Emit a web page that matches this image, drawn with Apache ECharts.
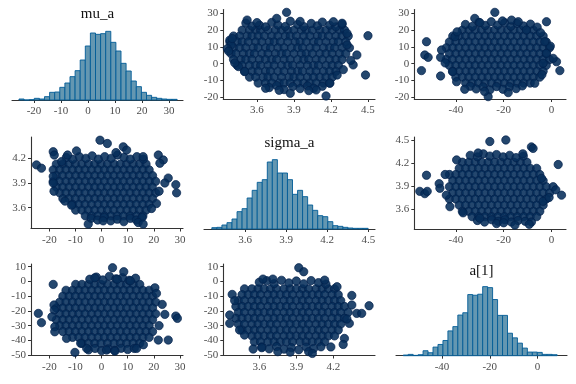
<!DOCTYPE html>
<html><head><meta charset="utf-8">
<script src="https://cdn.jsdelivr.net/npm/echarts@6/dist/echarts.min.js"></script>
<style>html,body{margin:0;padding:0;background:#fff}#c{width:576px;height:384px}</style>
</head><body><div id="c"></div>
<script>
// ---------- parameter names (diagonal titles) ----------
const paramNames = ['mu_a', 'sigma_a', 'a[1]'];

// ---------- histograms (bin start, bin width, counts) ----------
const muHistStart = -25.56, muHistWidth = 1.889;
const muHistCounts = [3,0,1,5,3,10,23,24,38,51,70,88,120,162,201,197,199,206,173,147,110,87,57,40,23,14,8,5,3,2,2];
const sigmaHistStart = 3.358, sigmaHistWidth = 0.0368;
const sigmaHistCounts = [4,5,12,19,30,52,61,93,116,140,148,201,208,168,168,148,104,116,97,72,56,40,37,22,10,8,5,3,2,2,2];
const a1HistStart = -56.25, a1HistWidth = 2.08;
const a1HistCounts = [2,4,1,3,15,9,26,34,46,75,88,123,130,185,183,186,209,206,170,122,122,68,54,38,23,11,11,10,4,4,3];

// ---------- tick labels ----------
const muTicks = [-20,-10,0,10,20,30];
const sigmaTicks = [3.6,3.9,4.2,4.5];
const sigmaTicksShort = [3.6,3.9,4.2];
const a1Ticks = [-40,-20,0];
const a1TicksY = [-50,-40,-30,-20,-10,0,10];

// ---------- scatter draws: rows are [y, x, x, ...], edge/outlier draws are [x, y] ----------
// row1 col2: x = sigma_a, y = mu_a
const sigmaMuRows = [
 [20.0, 3.48,3.54,3.59,3.63,3.69,3.75,3.80,3.85,3.90,3.96,4.00,4.05,4.11,4.16,4.21,4.27,4.31],
 [16.5, 3.41,3.46,3.52,3.56,3.61,3.66,3.72,3.77,3.83,3.87,3.92,3.98,4.03,4.09,4.13,4.18,4.24,4.29,4.34],
 [13.0, 3.38,3.44,3.48,3.53,3.59,3.64,3.70,3.74,3.79,3.85,3.91,3.95,4.00,4.06,4.10,4.16,4.22,4.26,4.32],
 [9.5, 3.41,3.46,3.51,3.57,3.61,3.67,3.71,3.77,3.82,3.88,3.93,3.97,4.03,4.08,4.14,4.19,4.23,4.29,4.35],
 [6.0, 3.39,3.43,3.49,3.54,3.58,3.64,3.69,3.75,3.80,3.84,3.90,3.96,4.00,4.05,4.11,4.16,4.21,4.27,4.32],
 [2.5, 3.41,3.47,3.51,3.56,3.62,3.67,3.72,3.76,3.82,3.87,3.93,3.98,4.02,4.08,4.13,4.19,4.24,4.29],
 [-1.0, 3.44,3.48,3.54,3.59,3.63,3.69,3.74,3.80,3.85,3.89,3.95,4.01,4.06,4.10,4.16,4.21,4.26],
 [-4.5, 3.50,3.56,3.61,3.67,3.71,3.77,3.82,3.88,3.93,3.97,4.03,4.08,4.14,4.19,4.24],
 [-8.0, 3.54,3.59,3.65,3.69,3.74,3.80,3.86,3.90,3.95,4.01,4.06,4.11,4.16,4.21],
 [-11.5, 3.61,3.67,3.72,3.78,3.82,3.87,3.93,3.98,4.03,4.08,4.14,4.19]
];
const sigmaMuOut = [[3.51,24.2],[3.56,22.4],[3.62,23.0],[3.67,22.0],[3.72,24.6],[3.77,23.1],[3.83,22.2],[3.87,25.3],[3.93,23.4],[3.98,22.1],[4.04,24.0],[4.09,22.6],[4.13,24.8],[4.19,23.0],[4.24,22.0],[4.29,23.4],
 [3.70,-14.2],[3.76,-13.0],[3.82,-15.4],[3.89,-13.6],[3.95,-14.8],[4.01,-13.2],[4.06,-14.6],[4.13,-13.4],
 [3.84,30.6],[4.50,16.7],[4.48,-6.7],[4.16,-19.2],[4.41,5.2],[4.38,-0.7],[4.33,18.1],[3.38,14.1],[3.39,11.2],[3.52,26.0],[3.76,27.0],[4.22,25.0],[4.29,24.1],[3.67,-14.6],[4.25,-6.7],[4.19,-11.6],[3.87,-17.6],[3.95,25.2],[4.33,11.2],[3.45,-1.7],[3.50,-4.7],[4.08,-15.6],[3.60,24.5],[4.36,2.0],[3.36,9.0],[3.78,-15.8],[4.02,-16.0],[4.30,-3.5],[3.40,15.0],[3.37,7.5],[3.42,0.5]];

// row1 col3: x = a[1], y = mu_a
const a1MuRows = [
 [20.0, -37.3,-34.5,-31.9,-29.2,-26.6,-23.8,-21.1,-18.3,-15.7,-13.0,-10.4,-7.6],
 [16.5, -41.3,-38.6,-35.9,-33.3,-30.5,-27.8,-25.1,-22.5,-19.7,-17.0,-14.2,-11.6,-8.9,-6.2,-3.5],
 [13.0, -42.7,-40.0,-37.2,-34.6,-31.9,-29.1,-26.5,-23.8,-21.2,-18.4,-15.7,-12.9,-10.3,-7.6,-4.9,-2.2],
 [9.5, -44.0,-41.3,-38.7,-35.9,-33.2,-30.4,-27.8,-25.1,-22.4,-19.8,-17.0,-14.3,-11.6,-8.8,-6.2,-3.5,-0.8],
 [6.0, -42.7,-40.0,-37.3,-34.6,-31.8,-29.2,-26.5,-23.8,-21.1,-18.4,-15.6,-13.0,-10.3,-7.6,-4.9,-2.2],
 [2.5, -44.0,-41.4,-38.6,-35.9,-33.2,-30.5,-27.7,-25.1,-22.4,-19.7,-17.0,-14.3,-11.5,-8.9,-6.2,-3.5,-0.8],
 [-1.0, -42.7,-40.0,-37.3,-34.5,-31.9,-29.2,-26.5,-23.7,-21.1,-18.4,-15.7,-13.0,-10.2,-7.6,-4.9,-2.2],
 [-4.5, -41.3,-38.6,-35.8,-33.2,-30.5,-27.8,-25.1,-22.3,-19.7,-17.0,-14.3,-11.6,-8.9,-6.1,-3.5],
 [-8.0, -40.0,-37.3,-34.6,-31.9,-29.1,-26.5,-23.8,-21.1,-18.4,-15.7,-12.9,-10.3,-7.6,-4.9],
 [-11.5, -35.9,-33.2,-30.5,-27.8,-25.0,-22.4,-19.7,-17.0,-14.3,-11.6,-8.9]
];
const a1MuOut = [[-36.0,23.4],[-33.1,22.2],[-30.4,24.6],[-27.7,22.8],[-25.2,25.0],[-22.5,23.0],[-19.6,24.4],[-17.0,22.3],[-14.4,24.0],[-11.7,22.5],[-8.8,23.6],[-6.0,21.8],
 [-34.0,-13.4],[-31.5,-15.0],[-28.6,-13.8],[-25.8,-15.6],[-23.0,-13.6],[-20.3,-15.2],[-17.6,-13.7],[-14.8,-14.8],[-12.2,-13.2],
 [-54.4,-4.1],[-52.3,13.1],[-53.0,5.2],[-51.6,3.8],[-46.4,3.8],[-46.0,8.2],[-46.4,-7.3],[-23.7,30.6],[-32.1,27.0],[-2.1,25.0],[3.5,-4.1],[2.1,1.2],[0.7,3.2],[-7.0,-11.6],[-26.5,-19.6],[-36.3,-15.2],[-39.7,-10.7],[-18.1,-17.2],[-41.4,-4.7],[-40.4,16.1],[-10.5,20.1],[-16.7,26.0],[-13.9,25.0],[-3.5,0.3],[-2.1,6.2],[-30.0,24.5],[-20.5,25.5],[-0.5,10.5],[-4.0,-6.5],[-44.5,0.5],[-28.0,-16.5],[-2.8,13.1],[-39.5,19.0],[-4.6,18.5]];

// row2 col1: x = mu_a, y = sigma_a
const muSigmaRows = [
 [4.13, -17.3,-14.8,-12.4,-10.0,-7.5,-5.0,-2.6,-0.2,2.3,4.8,7.2,9.6,12.1,14.6,17.0],
 [4.06, -18.5,-16.0,-13.6,-11.1,-8.7,-6.3,-3.8,-1.3,1.1,3.5,6.0,8.5,10.9,13.3,15.8,18.2],
 [3.99, -17.3,-14.9,-12.4,-9.9,-7.5,-5.1,-2.6,-0.1,2.3,4.7,7.2,9.7,12.1,14.5,17.0,19.5],
 [3.92, -18.5,-16.1,-13.6,-11.2,-8.7,-6.2,-3.8,-1.4,1.1,3.6,6.0,8.4,10.9,13.4,15.8,18.3,20.7],
 [3.85, -17.3,-14.8,-12.4,-9.9,-7.5,-5.0,-2.6,-0.2,2.3,4.8,7.2,9.6,12.1,14.6,17.0,19.4],
 [3.78, -16.0,-13.6,-11.1,-8.7,-6.3,-3.8,-1.3,1.1,3.5,6.0,8.5,10.9,13.3,15.8,18.2,20.7],
 [3.71, -14.8,-12.4,-10.0,-7.5,-5.0,-2.6,-0.2,2.3,4.8,7.2,9.6,12.1,14.6,17.0,19.5],
 [3.64, -11.1,-8.7,-6.3,-3.8,-1.3,1.1,3.5,6.0,8.5,10.9,13.3,15.8,18.2],
 [3.57, -9.9,-7.5,-5.1,-2.6,-0.1,2.3,4.7,7.2,9.7,12.1,14.5,17.0],
 [3.50, -6.2,-3.8,-1.4,1.1,3.6,6.0,8.4,10.9,13.4,15.8]
];
const muSigmaOut = [[-13.5,4.21],[-11.0,4.19],[-8.5,4.22],[-6.0,4.20],[-3.6,4.23],[-1.2,4.19],[1.2,4.22],[3.7,4.20],[6.1,4.24],[8.6,4.21],[11.0,4.19],[13.5,4.22],[16.0,4.19],
 [-4.0,3.47],[-1.5,3.45],[1.0,3.48],[3.5,3.44],[6.0,3.46],[8.5,3.43],[11.0,3.47],[13.3,3.45],[15.5,3.48],
 [-24.9,4.12],[-23.0,4.08],[-18.5,4.28],[-18.1,4.24],[-15.3,4.16],[-9.6,4.29],[-0.6,4.42],[2.2,4.38],[8.3,4.34],[9.6,4.30],[-5.1,3.40],[0.6,3.44],[14.0,3.42],[15.9,3.40],[21.7,4.24],[23.6,4.18],[22.3,4.14],[25.5,3.96],[24.2,3.90],[28.4,3.88],[28.7,3.78],[21.0,3.65],[19.1,3.59],[-11.5,3.63],[15.9,4.22],[-18.5,3.98],[-18.5,3.90],[-18.2,3.80],[-14.0,3.68],[22.0,3.80],[5.5,4.27],[-13.0,4.24]];

// row2 col3: x = a[1], y = sigma_a
const a1SigmaRows = [
 [4.21, -37.3,-34.6,-31.9,-29.2,-26.5,-23.8,-21.1,-18.4,-15.7,-13.0,-10.3],
 [4.13, -38.6,-35.9,-33.2,-30.5,-27.8,-25.1,-22.4,-19.7,-17.0,-14.3,-11.6,-8.9,-6.2],
 [4.05, -42.7,-40.0,-37.3,-34.6,-31.9,-29.2,-26.5,-23.8,-21.1,-18.4,-15.7,-13.0,-10.3,-7.6,-4.9],
 [3.97, -41.3,-38.6,-35.9,-33.2,-30.5,-27.8,-25.1,-22.4,-19.7,-17.0,-14.3,-11.6,-8.9,-6.2,-3.5],
 [3.89, -42.7,-40.0,-37.3,-34.6,-31.9,-29.2,-26.5,-23.8,-21.1,-18.4,-15.7,-13.0,-10.3,-7.6,-4.9,-2.2],
 [3.81, -41.3,-38.6,-35.9,-33.2,-30.5,-27.8,-25.1,-22.4,-19.7,-17.0,-14.3,-11.6,-8.9,-6.2,-3.5,-0.8],
 [3.73, -42.7,-40.0,-37.3,-34.6,-31.9,-29.2,-26.5,-23.8,-21.1,-18.4,-15.7,-13.0,-10.3,-7.6,-4.9,-2.2],
 [3.65, -38.6,-35.9,-33.2,-30.5,-27.8,-25.1,-22.4,-19.7,-17.0,-14.3,-11.6,-8.9,-6.2,-3.5],
 [3.57, -37.3,-34.6,-31.9,-29.2,-26.5,-23.8,-21.1,-18.4,-15.7,-13.0,-10.3,-7.6,-4.9],
 [3.50, -33.2,-30.5,-27.8,-25.1,-22.4,-19.7,-17.0,-14.3,-11.6,-8.9,-6.2]
];
const a1SigmaOut = [[-34.0,4.30],[-31.0,4.28],[-28.5,4.32],[-25.8,4.29],[-23.0,4.31],[-20.2,4.28],[-17.5,4.30],[-14.8,4.27],[-11.8,4.29],
 [-31.0,3.45],[-28.0,3.43],[-25.0,3.46],[-22.3,3.44],[-19.5,3.46],[-16.8,3.43],[-14.0,3.45],[-11.0,3.44],
 [-55.1,3.83],[-53.0,3.80],[-52.0,3.83],[-52.3,4.04],[-47.0,3.93],[-46.7,3.87],[-42.5,3.63],[-25.8,4.48],[-19.1,4.50],[-8.4,4.41],[-7.7,4.39],[2.8,4.18],[0.7,3.89],[1.8,3.85],[4.2,3.78],[-4.2,4.00],[-3.5,3.70],[-8.4,3.43],[-9.3,3.40],[-15.3,3.39],[-23.0,3.41],[-30.0,3.48],[-39.7,4.24],[-30.7,4.33],[-44.0,3.78],[-44.5,4.05],[-12.0,4.32],[-37.0,3.55],[-1.0,3.75],[-20.0,3.42]];

// row3 col1: x = mu_a, y = a[1]
const muA1Rows = [
 [-2, -9.9,-7.5,-5.0,-2.6,-0.2,2.3,4.8,7.2,9.6,12.1,14.6],
 [-6, -13.6,-11.1,-8.7,-6.3,-3.8,-1.3,1.1,3.5,6.0,8.5,10.9,13.3,15.8,18.2],
 [-10, -14.8,-12.4,-10.0,-7.5,-5.0,-2.6,-0.2,2.3,4.8,7.2,9.6,12.1,14.6,17.0,19.5],
 [-14, -16.0,-13.6,-11.1,-8.7,-6.3,-3.8,-1.3,1.1,3.5,6.0,8.5,10.9,13.3,15.8,18.2,20.7],
 [-18, -17.3,-14.8,-12.4,-10.0,-7.5,-5.0,-2.6,-0.2,2.3,4.8,7.2,9.6,12.1,14.6,17.0,19.5],
 [-22, -16.0,-13.6,-11.1,-8.7,-6.3,-3.8,-1.3,1.1,3.5,6.0,8.5,10.9,13.3,15.8,18.2,20.7],
 [-26, -17.3,-14.8,-12.4,-10.0,-7.5,-5.0,-2.6,-0.2,2.3,4.8,7.2,9.6,12.1,14.6,17.0,19.5],
 [-30, -16.0,-13.6,-11.1,-8.7,-6.3,-3.8,-1.3,1.1,3.5,6.0,8.5,10.9,13.3,15.8,18.2],
 [-34, -14.8,-12.4,-10.0,-7.5,-5.0,-2.6,-0.2,2.3,4.8,7.2,9.6,12.1,14.6,17.0,19.5],
 [-38, -11.1,-8.7,-6.3,-3.8,-1.3,1.1,3.5,6.0,8.5,10.9,13.3,15.8,18.2],
 [-42, -7.5,-5.0,-2.6,-0.2,2.3,4.8,7.2,9.6,12.1,14.6]
];
const muA1Out = [[-4.5,1.5],[-2.0,3.0],[0.5,1.0],[3.0,3.5],[5.5,1.8],[8.0,2.6],[10.5,0.8],[13.0,2.2],
 [-5.0,-46.5],[-2.5,-45.5],[0.0,-47.0],[2.5,-45.8],[5.0,-46.8],[7.5,-45.4],[10.0,-46.2],[12.5,-45.5],
 [-24.2,-21.7],[-23.0,-28.0],[-18.5,-2.0],[-18.2,-16.0],[-18.1,-19.4],[-17.9,-30.8],[-17.9,-34.2],[-10.2,-48.2],[4.2,9.3],[8.5,6.6],[-2.6,2.5],[20.4,-4.3],[23.2,-15.6],[24.2,-22.4],[28.4,-23.5],[29.0,-25.1],[25.5,-39.8],[21.7,-39.8],[13.4,-45.5],[1.9,-46.6],[5.1,-47.3],[-5.7,-45.5],[21.0,-8.1],[-13.4,-38.7],[6.0,1.5],[11.0,0.5],[16.0,-43.0],[-19.0,-24.0],[22.0,-30.0],[-8.0,-42.0]];

// row3 col2: x = sigma_a, y = a[1]
const sigmaA1Rows = [
 [-5, 3.48,3.54,3.59,3.64,3.69,3.74,3.80,3.85,3.90,3.95,4.00,4.06,4.11,4.16,4.21],
 [-9, 3.46,3.51,3.56,3.61,3.67,3.72,3.77,3.82,3.87,3.93,3.98,4.03,4.08,4.13,4.19,4.24],
 [-13, 3.43,3.48,3.54,3.59,3.64,3.69,3.74,3.80,3.85,3.90,3.95,4.00,4.06,4.11,4.16,4.21,4.26],
 [-17, 3.41,3.46,3.51,3.56,3.61,3.67,3.72,3.77,3.82,3.87,3.93,3.98,4.03,4.08,4.13,4.19,4.24,4.29],
 [-21, 3.43,3.48,3.54,3.59,3.64,3.69,3.74,3.80,3.85,3.90,3.95,4.00,4.06,4.11,4.16,4.21,4.26,4.32],
 [-25, 3.41,3.46,3.51,3.56,3.61,3.67,3.72,3.77,3.82,3.87,3.93,3.98,4.03,4.08,4.13,4.19,4.24,4.29],
 [-29, 3.43,3.48,3.54,3.59,3.64,3.69,3.74,3.80,3.85,3.90,3.95,4.00,4.06,4.11,4.16,4.21,4.26],
 [-33, 3.46,3.51,3.56,3.61,3.67,3.72,3.77,3.82,3.87,3.93,3.98,4.03,4.08,4.13,4.19,4.24],
 [-37, 3.54,3.59,3.64,3.69,3.74,3.80,3.85,3.90,3.95,4.00,4.06,4.11,4.16,4.21],
 [-41, 3.56,3.61,3.67,3.72,3.77,3.82,3.87,3.93,3.98,4.03,4.08,4.13]
];
const sigmaA1Out = [[3.60,-0.5],[3.66,0.5],[3.72,-1.5],[3.78,0.8],[3.84,-1.0],[3.90,0.3],[3.96,-1.6],[4.02,0.6],[4.08,-0.8],[4.14,-1.8],
 [3.62,-44.5],[3.68,-45.8],[3.74,-44.2],[3.80,-46.0],[3.86,-45.0],[3.92,-46.4],[3.98,-44.6],[4.04,-45.6],[4.10,-44.4],
 [3.38,-8.8],[3.36,-22.8],[3.36,-28.5],[3.92,9.3],[3.96,6.6],[3.63,1.6],[3.71,1.6],[4.13,0.9],[4.35,-16.0],[4.39,-21.7],[4.43,-21.7],[4.49,-16.5],[4.33,-28.5],[4.29,-38.7],[4.28,-42.8],[4.00,-47.7],[4.03,-48.9],[3.62,-45.0],[3.55,-45.9],[3.48,-36.4],[4.23,-3.6],[3.75,-47.7],[3.40,-13.0],[3.44,-33.0],[4.31,-25.5],[4.18,-44.5],[3.85,-48.0],[4.35,-9.5]];

// ---------- build ----------
function cloud(rows, out) {
  const pts = [];
  rows.forEach(r => { for (let i = 1; i < r.length; i++) pts.push([r[i], r[0]]); });
  out.forEach(p => pts.push([p[0], p[1]]));
  return pts;
}
function bins(start, width, counts) {
  return counts.map((c, i) => [start + i * width, start + (i + 1) * width, c]);
}

const AX = '#333', LAB = '#4d4d4d', FONT = '"Liberation Serif", "DejaVu Serif", serif';
const grids = [
  {left:12,    top:27,   width:171,   height:73},
  {left:223.3, top:9.5,  width:151.7, height:89.5},
  {left:414.3, top:9.5,  width:151.7, height:89.5},
  {left:31,    top:137,  width:152,   height:91.5},
  {left:204,   top:155.5,width:171,   height:73.5},
  {left:414.3, top:137,  width:151.7, height:92},
  {left:31,    top:264,  width:152,   height:91.5},
  {left:223.3, top:264,  width:151.7, height:91.5},
  {left:396,   top:282,  width:171,   height:73.7}
].map(g => Object.assign({containLabel:false, outerBoundsMode:'none'}, g));

function xAx(gi, min, max, ticks) {
  return {type:'value', gridIndex:gi, min, max, scale:true,
    axisLine:{show:true, onZero:false, lineStyle:{color:AX, width:1.1}},
    axisTick:{show:true, length:3, customValues:ticks, lineStyle:{color:AX, width:1}},
    axisLabel:{show:true, customValues:ticks, margin:6, fontFamily:FONT, fontSize:11, color:LAB},
    splitLine:{show:false}};
}
function yAx(gi, min, max, ticks) {
  if (!ticks) return {type:'value', gridIndex:gi, min, max, show:false, splitLine:{show:false}};
  return {type:'value', gridIndex:gi, min, max, scale:true,
    axisLine:{show:true, onZero:false, lineStyle:{color:AX, width:1.1}},
    axisTick:{show:true, length:3, customValues:ticks, lineStyle:{color:AX, width:1}},
    axisLabel:{show:true, customValues:ticks, margin:5, fontFamily:FONT, fontSize:11, color:LAB},
    splitLine:{show:false}};
}

const xAxes = [
  xAx(0, -28.15, 35.18, muTicks),
  xAx(1, 3.327, 4.557, sigmaTicks),
  xAx(2, -57.4, 6.07, a1Ticks),
  xAx(3, -27.0, 31.15, muTicks),
  xAx(4, 3.3007, 4.549, sigmaTicks),
  xAx(5, -57.4, 6.07, a1Ticks),
  xAx(6, -27.0, 31.15, muTicks),
  xAx(7, 3.308, 4.538, sigmaTicksShort),
  xAx(8, -59.27, 12.35, a1Ticks)
];
const yAxes = [
  yAx(0, 0, 219, null),
  yAx(1, -21.0, 32.3, muTicks),
  yAx(2, -21.0, 32.3, muTicks),
  yAx(3, 3.347, 4.459, sigmaTicksShort),
  yAx(4, 0, 220.5, null),
  yAx(5, 3.339, 4.539, sigmaTicks),
  yAx(6, -50.3, 11.86, a1TicksY),
  yAx(7, -50.3, 11.86, a1TicksY),
  yAx(8, 0, 223, null)
];

function histSeries(i, data) {
  return {type:'custom', xAxisIndex:i, yAxisIndex:i, data, silent:true, clip:false,
    renderItem: (params, api) => {
      const p0 = api.coord([api.value(0), api.value(2)]);
      const p1 = api.coord([api.value(1), 0]);
      return {type:'rect', shape:{x:p0[0], y:p0[1], width:p1[0]-p0[0], height:p1[1]-p0[1]},
        style:{fill:'#6497b1', stroke:'#005b96', lineWidth:0.9}};
    }};
}
function scatterSeries(i, data) {
  return {type:'scatter', xAxisIndex:i, yAxisIndex:i, data, symbol:'circle', symbolSize:8.3, silent:true,
    itemStyle:{color:'rgba(6,46,90,0.88)', borderColor:'#011f4b', borderWidth:0.7, opacity:1}};
}

const series = [
  histSeries(0, bins(muHistStart, muHistWidth, muHistCounts)),
  scatterSeries(1, cloud(sigmaMuRows, sigmaMuOut)),
  scatterSeries(2, cloud(a1MuRows, a1MuOut)),
  scatterSeries(3, cloud(muSigmaRows, muSigmaOut)),
  histSeries(4, bins(sigmaHistStart, sigmaHistWidth, sigmaHistCounts)),
  scatterSeries(5, cloud(a1SigmaRows, a1SigmaOut)),
  scatterSeries(6, cloud(muA1Rows, muA1Out)),
  scatterSeries(7, cloud(sigmaA1Rows, sigmaA1Out)),
  histSeries(8, bins(a1HistStart, a1HistWidth, a1HistCounts))
];

const titlePos = [[97.5, 14], [289.5, 143], [481.5, 271]];
const graphic = paramNames.map((t, i) => ({type:'text', x:titlePos[i][0], y:titlePos[i][1], silent:true,
  style:{text:t, font:'15px ' + FONT, fill:'#111', align:'center', verticalAlign:'middle', textAlign:'center', textVerticalAlign:'middle'}}));

const chart = echarts.init(document.getElementById('c'), null, {renderer:'canvas'});
chart.setOption({animation:false, backgroundColor:'#fff', grid:grids, xAxis:xAxes, yAxis:yAxes, series, graphic});
</script></body></html>
